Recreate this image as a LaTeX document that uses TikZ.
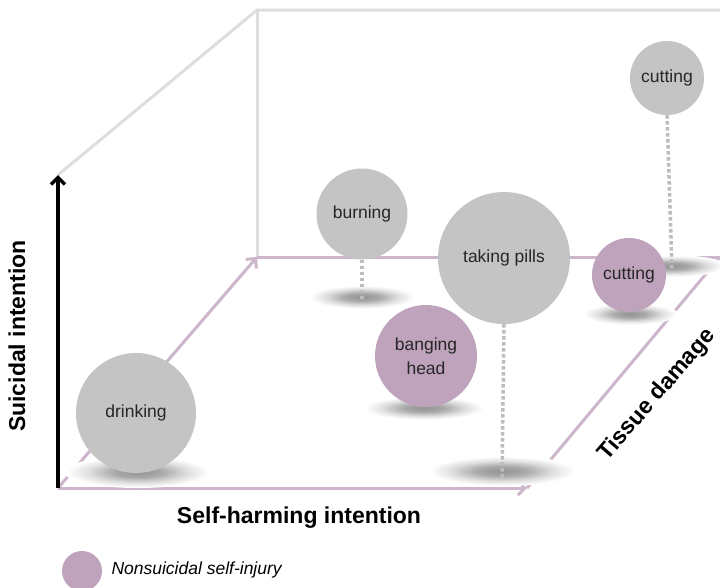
\documentclass[tikz,border=0pt]{standalone}
\usepackage{fontspec}
\setmainfont{Liberation Sans}
\usetikzlibrary{arrows.meta}
\definecolor{bubblegrey}{HTML}{C4C4C4}
\definecolor{mauve}{HTML}{BFA3BC}
\definecolor{mauveline}{HTML}{CDB6CB}
\definecolor{framegrey}{HTML}{DEDEDE}
\definecolor{dotgrey}{HTML}{BDBDBD}
\pgfdeclareradialshading{floorshade}{\pgfpoint{0bp}{0bp}}{color(0bp)=(black!42); color(8bp)=(black!34); color(17bp)=(black!12); color(24bp)=(white); color(50bp)=(white)}
\tikzset{
  bubble/.style={circle, inner sep=0pt, align=center, text=black!85,
    font=\fontsize{17.5}{24}\selectfont},
  gbubble/.style={bubble, fill=bubblegrey},
  pbubble/.style={bubble, fill=mauve},
  stem/.style={dotgrey, line width=3.5pt, dash pattern=on 3.5pt off 2.5pt},
  axislabel/.style={font=\fontsize{23}{27}\selectfont\bfseries}
}
\newcommand{\floorshadow}[3]{\shade[shading=floorshade] (#1) ellipse (#2 and #3);}
\begin{document}
\begin{tikzpicture}[x=1pt, y=-1pt, >={Straight Barb[length=7pt,width=14pt]}]
	\useasboundingbox[fill=white] (0,0) rectangle (720,587);
	% corners of the box
	\coordinate (O) at (58,488);
	\coordinate (Top) at (58,175);
	\coordinate (BackTop) at (257,10);
	\coordinate (BackTopR) at (720,10);
	\coordinate (Back) at (257,257);
	\coordinate (BackR) at (720,257);
	\coordinate (Front) at (527,488);
	% frame
	\draw[framegrey, line width=3pt] (Top) -- (BackTop) -- (BackTopR);
	\draw[framegrey, line width=3pt] (BackTop) -- (Back);
	\draw[mauveline, line width=3pt] (Back) -- (BackR);
	\draw[mauveline, line width=3pt] (Front) -- (BackR);
	\draw[->, mauveline, line width=3pt] (O) -- (Back);
	\draw[->, mauveline, line width=3pt] (O) -- (Front);
	\draw[->, black, line width=3.5pt] (O) -- (Top);
	% shadows on the floor
	\coordinate (drinkS) at (138,472);
	\coordinate (burnS) at (362,297);
	\coordinate (pillsS) at (502,471);
	\coordinate (cutTopS) at (672,266);
	\coordinate (cutS) at (630,314);
	\coordinate (bangS) at (424,408);
	\floorshadow{drinkS}{74}{16}
	\floorshadow{burnS}{54}{12}
	\floorshadow{pillsS}{76}{15}
	\floorshadow{cutTopS}{54}{11}
	\floorshadow{cutS}{48}{11}
	\floorshadow{bangS}{62}{12}
	% bubbles
	\node[gbubble, minimum size=120pt] (drink) at (136,413) {drinking};
	\node[gbubble, minimum size=91pt] (burn) at (362,214) {burning};
	\node[gbubble, minimum size=132pt] (pills) at (504,258) {taking pills};
	\node[gbubble, minimum size=74pt] (cutTop) at (667,78) {cutting};
	\node[pbubble, minimum size=74pt] (cut) at (629,275) {cutting};
	\node[pbubble, minimum size=102pt] (bang) at (426,356) {banging\\head};
	% stems
	\draw[stem] (burn.south) -- ([yshift=-3pt]burnS);
	\draw[stem] (pills.south) -- ([yshift=-8pt]pillsS);
	\draw[stem] (cutTop.south) -- ([yshift=-2pt]cutTopS);
	% axis labels
	\node[axislabel, anchor=base] (xlab) at (299,523) {Self-harming intention};
	\node[axislabel, anchor=base, rotate=90] (ylab) at (25,336) {Suicidal intention};
	\node[axislabel, rotate=49] (zlab) at (657,395) {Tissue damage};
	% legend
	\node[circle, fill=mauve, minimum size=40pt, inner sep=0pt] (key) at (82,571) {};
	\node[anchor=west, font=\fontsize{17.5}{20}\selectfont\itshape] (keylab) at (108,570) {Nonsuicidal self-injury};
\end{tikzpicture}
\end{document}
